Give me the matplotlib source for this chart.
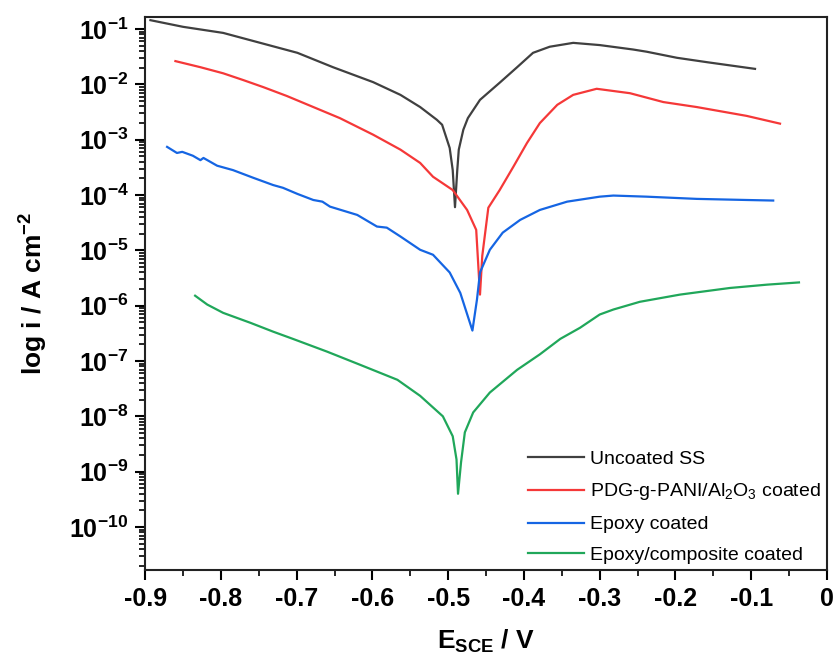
import matplotlib
matplotlib.use("Agg")
import matplotlib.pyplot as plt
from matplotlib.ticker import MultipleLocator, LogLocator, FuncFormatter, NullFormatter
import numpy as np

plt.rcParams["font.family"] = ["Liberation Sans", "DejaVu Sans"]
plt.rcParams["mathtext.fontset"] = "custom"
plt.rcParams["mathtext.rm"] = "Liberation Sans"
plt.rcParams["mathtext.it"] = "Liberation Sans"
plt.rcParams["mathtext.bf"] = "Liberation Sans:bold"
plt.rcParams["axes.unicode_minus"] = False

# E (V vs SCE) and log10(i / A cm-2)
e_uncoated = [-0.893, -0.850, -0.797, -0.748, -0.699, -0.652, -0.599, -0.563, -0.537, -0.515,
              -0.508, -0.498, -0.494, -0.491, -0.488, -0.486, -0.480, -0.474, -0.458, -0.432,
              -0.409, -0.388, -0.366, -0.335, -0.300, -0.256, -0.238, -0.198, -0.158, -0.095]
log_uncoated = [-0.84, -0.96, -1.07, -1.25, -1.43, -1.69, -1.96, -2.19, -2.41, -2.64,
                -2.73, -3.15, -3.55, -4.22, -3.55, -3.18, -2.82, -2.61, -2.28, -1.97,
                -1.69, -1.43, -1.32, -1.25, -1.29, -1.37, -1.41, -1.52, -1.60, -1.72]

e_pani = [-0.860, -0.827, -0.797, -0.771, -0.744, -0.713, -0.678, -0.643, -0.599, -0.563,
          -0.537, -0.520, -0.494, -0.475, -0.463, -0.458, -0.455, -0.447, -0.432, -0.414,
          -0.396, -0.379, -0.356, -0.335, -0.304, -0.260, -0.216, -0.172, -0.106, -0.062]
log_pani = [-1.58, -1.69, -1.80, -1.92, -2.05, -2.21, -2.41, -2.61, -2.91, -3.18,
            -3.42, -3.67, -3.91, -4.27, -4.63, -5.80, -5.10, -4.23, -3.91, -3.49,
            -3.06, -2.70, -2.37, -2.19, -2.08, -2.16, -2.32, -2.41, -2.57, -2.71]

e_epoxy = [-0.871, -0.858, -0.851, -0.837, -0.827, -0.823, -0.805, -0.784, -0.757, -0.731,
           -0.718, -0.699, -0.678, -0.666, -0.656, -0.620, -0.594, -0.581, -0.563, -0.537,
           -0.520, -0.498, -0.484, -0.468, -0.462, -0.458, -0.445, -0.428, -0.405, -0.379,
           -0.343, -0.300, -0.282, -0.238, -0.172, -0.106, -0.071]
log_epoxy = [-3.13, -3.24, -3.22, -3.29, -3.37, -3.33, -3.47, -3.55, -3.69, -3.82,
             -3.87, -3.98, -4.09, -4.12, -4.21, -4.36, -4.57, -4.59, -4.75, -4.99,
             -5.08, -5.40, -5.77, -6.45, -5.89, -5.40, -4.99, -4.68, -4.45, -4.27,
             -4.12, -4.03, -4.01, -4.03, -4.07, -4.09, -4.10]

e_composite = [-0.834, -0.818, -0.797, -0.761, -0.731, -0.705, -0.660, -0.616, -0.567, -0.537,
               -0.507, -0.494, -0.489, -0.487, -0.483, -0.478, -0.467, -0.445, -0.409, -0.379,
               -0.352, -0.326, -0.300, -0.282, -0.247, -0.194, -0.128, -0.079, -0.037]
log_composite = [-5.82, -5.98, -6.13, -6.31, -6.47, -6.60, -6.83, -7.07, -7.34, -7.63,
                 -8.00, -8.36, -8.78, -9.40, -8.83, -8.29, -7.93, -7.57, -7.16, -6.88,
                 -6.60, -6.40, -6.16, -6.07, -5.93, -5.80, -5.68, -5.62, -5.58]

series = [
    ("Uncoated SS", e_uncoated, log_uncoated, "#404040"),
    ("PDG-g-PANI/Al$_2$O$_3$ coated", e_pani, log_pani, "#f53838"),
    ("Epoxy coated", e_epoxy, log_epoxy, "#1565e3"),
    ("Epoxy/composite coated", e_composite, log_composite, "#20a75a"),
]

x_ticks = [-0.9, -0.8, -0.7, -0.6, -0.5, -0.4, -0.3, -0.2, -0.1, 0.0]
x_ticklabels = ["-0.9", "-0.8", "-0.7", "-0.6", "-0.5", "-0.4", "-0.3", "-0.2", "-0.1", "0"]

fig = plt.figure(figsize=(8.34, 6.64), dpi=100)
ax = fig.add_axes([0.174, 0.1416, 0.8176, 0.8328])

for name, e, lg, c in series:
    ax.plot(e, 10.0 ** np.array(lg), color=c, lw=1.6, label=name)

ax.set_yscale("log")
ax.set_xlim(-0.9, 0.0)
ax.set_ylim(1.67e-11, 0.165)

ax.set_xticks(x_ticks)
ax.set_xticklabels(x_ticklabels)
ax.xaxis.set_minor_locator(MultipleLocator(0.05))

ax.yaxis.set_major_locator(LogLocator(base=10, numticks=20))
ax.yaxis.set_minor_locator(LogLocator(base=10, subs=np.arange(2, 10), numticks=20))
ax.yaxis.set_minor_formatter(NullFormatter())
ax.yaxis.set_major_formatter(FuncFormatter(lambda v, p: r"$\mathbf{10^{%d}}$" % round(np.log10(v))))

ax.tick_params(which="major", direction="out", length=7, width=1.5, labelsize=18, pad=5,
               top=False, right=False)
ax.tick_params(which="minor", direction="out", length=4, width=1.2, top=False, right=False)
for lab in ax.get_xticklabels():
    lab.set_fontweight("bold")
for s in ax.spines.values():
    s.set_linewidth(1.5)
    s.set_color("#222222")

ax.set_xlabel(r"E$_{\mathbf{SCE}}$ / V", fontsize=19, fontweight="bold", labelpad=12)
ax.set_ylabel(r"log i / A cm$^{\mathbf{-2}}$", fontsize=19, fontweight="bold", labelpad=14)

ax.legend(loc="lower right", frameon=False, fontsize=14, handlelength=2.9,
          handletextpad=0.3, labelspacing=0.68, borderpad=0.2, borderaxespad=0.1)

fig.savefig("out.png", dpi=100)
